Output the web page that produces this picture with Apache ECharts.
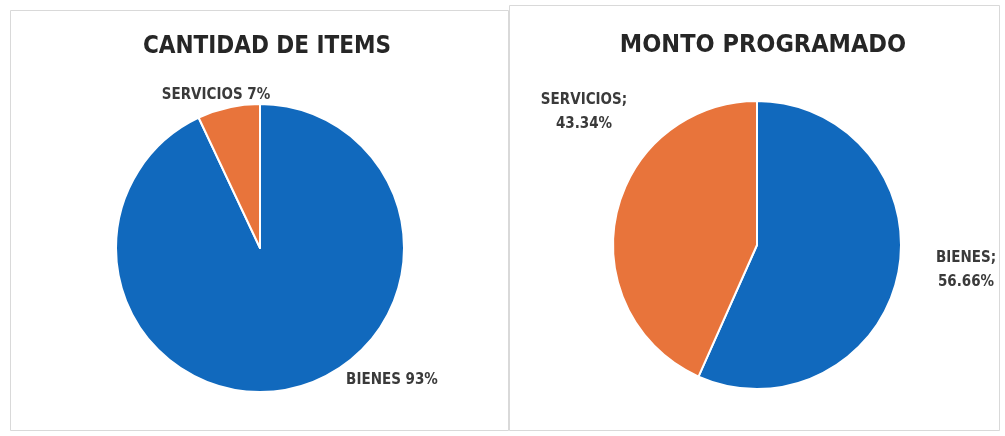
<!DOCTYPE html>
<html><head><meta charset="utf-8">
<script src="https://cdn.jsdelivr.net/npm/echarts@6/dist/echarts.min.js"></script>
<style>html,body{margin:0;padding:0;background:#fff}#c{width:1005px;height:436px}</style>
</head><body><div id="c"></div>
<script>
const titles = ['CANTIDAD DE ITEMS', 'MONTO PROGRAMADO'];
const categories = ['BIENES', 'SERVICIOS'];
const itemsPct = [93, 7];
const montoPct = [56.66, 43.34];
const itemsLabels = ['BIENES 93%', 'SERVICIOS 7%'];
const montoLabels = ['BIENES;\n56.66%', 'SERVICIOS;\n43.34%'];

const BLUE = '#1169bd', ORANGE = '#e8743b';
const FONT = '"Liberation Sans Narrow", "DejaVu Sans Condensed", "Liberation Sans", sans-serif';
const labelPos = [
  [[392, 380], [216, 95]],
  [[966, 270], [584, 112]]
];

function pieSeries(idx, values, labels, center) {
  return {
    type: 'pie',
    center: center,
    radius: 144,
    startAngle: 90,
    clockwise: true,
    silent: true,
    animation: false,
    itemStyle: { borderColor: '#fff', borderWidth: 2 },
    label: {
      show: true,
      position: 'outside',
      formatter: p => labels[p.dataIndex],
      fontFamily: FONT,
      fontWeight: 'bold',
      fontSize: 15,
      lineHeight: 24,
      color: '#3a3a3a',
      align: 'center',
      overflow: 'none',
      width: 200
    },
    labelLine: { show: false },
    labelLayout: p => ({ x: labelPos[idx][p.dataIndex][0], y: labelPos[idx][p.dataIndex][1], align: 'center', verticalAlign: 'middle' }),
    data: categories.map((c, i) => ({ name: c, value: values[i], itemStyle: { color: i === 0 ? BLUE : ORANGE } }))
  };
}

const chart = echarts.init(document.getElementById('c'), null, { renderer: 'canvas' });
chart.setOption({
  backgroundColor: '#fff',
  title: [
    { text: titles[0], left: 262, top: 30, textAlign: 'center', textStyle: { fontFamily: FONT, fontWeight: 'bold', fontSize: 24, color: '#262626' } },
    { text: titles[1], left: 758, top: 28, textAlign: 'center', textStyle: { fontFamily: FONT, fontWeight: 'bold', fontSize: 25, color: '#262626' } }
  ],
  graphic: [
    { type: 'rect', shape: { x: 10.5, y: 10.5, width: 498, height: 420 }, style: { fill: 'none', stroke: '#d9d9d9', lineWidth: 1 }, silent: true },
    { type: 'rect', shape: { x: 509.5, y: 5.5, width: 490, height: 425 }, style: { fill: 'none', stroke: '#d9d9d9', lineWidth: 1 }, silent: true }
  ],
  series: [
    pieSeries(0, itemsPct, itemsLabels, [260, 248]),
    pieSeries(1, montoPct, montoLabels, [757, 245])
  ]
});
</script></body></html>
